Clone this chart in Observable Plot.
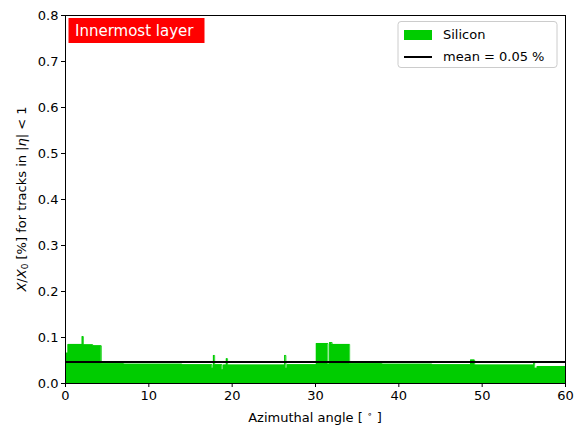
<!DOCTYPE html>
<html>
<head>
<meta charset="utf-8">
<script src="https://cdn.jsdelivr.net/npm/d3@7"></script>
<script src="https://cdn.jsdelivr.net/npm/@observablehq/plot@0.6"></script>
<style>
  html, body { margin: 0; padding: 0; background: #fff; }
  svg { font-family: "DejaVu Sans", sans-serif; }
</style>
</head>
<body>
<div id="chart"></div>
<script>
// Histogram bins: lower edge (degrees), material budget X/X0 [%]; last bin ends at 60
const binLo = [0, 0.3, 2.0, 2.15, 3.3, 4.3, 7, 10, 14, 17.6, 17.75, 17.9, 18.8, 18.95, 19.3, 19.45, 23, 26.3, 26.45, 26.6, 30.1, 31.5, 31.7, 32.0, 34.1, 38, 44, 48.6, 49.1, 53, 56.2, 56.3, 56.6];
const binEnd = 60;
const silicon = [0.066, 0.085, 0.102, 0.084, 0.082, 0.043, 0.042, 0.042, 0.041, 0.033, 0.061, 0.041, 0.030, 0.040, 0.054, 0.040, 0.040, 0.061, 0.033, 0.041, 0.087, 0.042, 0.089, 0.085, 0.043, 0.042, 0.041, 0.051, 0.040, 0.040, 0.048, 0.033, 0.037];
const meanValue = [0.047];
const meanLabel = "mean = 0.05 %";
const xTicks = [0, 10, 20, 30, 40, 50, 60];
const yTicks = [0, 0.1, 0.2, 0.3, 0.4, 0.5, 0.6, 0.7, 0.8];

const pts = binLo.map((x, i) => ({x, y: silicon[i]}));
pts.push({x: binEnd, y: silicon[silicon.length - 1]});

const W = 578, H = 433;
const mL = 65, mR = 13, mT = 15, mB = 50;
const green = "#00cc00";

const chart = Plot.plot({
  width: W, height: H,
  marginLeft: mL, marginRight: mR, marginTop: mT, marginBottom: mB,
  style: {fontFamily: "DejaVu Sans, sans-serif", fontSize: "13px", color: "#000", background: "#fff"},
  x: {domain: [0, 60], ticks: xTicks, tickSize: 4, tickPadding: 3, label: null, tickFormat: d3.format("d")},
  y: {domain: [0, 0.8], ticks: yTicks, tickSize: 4, tickPadding: 3, label: null, tickFormat: d3.format(".1f")},
  marks: [
    Plot.areaY(pts, {x: "x", y: "y", curve: "step-after", fill: green}),
    Plot.lineY(pts, {x: "x", y: "y", curve: "step-after", stroke: green, strokeWidth: 0.8}),
    Plot.ruleY(meanValue, {stroke: "#000", strokeWidth: 2}),
    Plot.frame({stroke: "#000", strokeWidth: 1})
  ]
});

document.getElementById("chart").appendChild(chart);
const svg = d3.select(chart);

// x axis label
const xl = svg.append("text")
  .attr("x", (mL + W - mR) / 2).attr("y", 422)
  .attr("text-anchor", "middle").attr("font-size", 13).attr("fill", "#000");
xl.append("tspan").text("Azimuthal angle [ ");
xl.append("tspan").attr("font-size", 9).attr("dy", -5).text("∘");
xl.append("tspan").attr("dy", 5).text(" ]");

// y axis label with italic symbols
const yl = svg.append("text")
  .attr("transform", `translate(22,${(mT + H - mB) / 2}) rotate(-90)`)
  .attr("text-anchor", "middle")
  .attr("dominant-baseline", "middle")
  .attr("font-size", 13)
  .attr("fill", "#000");
yl.append("tspan").attr("font-style", "italic").text("X");
yl.append("tspan").text("/");
yl.append("tspan").attr("font-style", "italic").text("X");
yl.append("tspan").attr("font-size", 9).attr("dy", 3).text("0");
yl.append("tspan").attr("dy", -3).text(" [%] for tracks in |");
yl.append("tspan").attr("font-style", "italic").text("η");
yl.append("tspan").text("| < 1");

// Red tag
svg.append("rect").attr("x", 68.5).attr("y", 18).attr("width", 136).attr("height", 25).attr("fill", "#ff0000");
svg.append("text").attr("x", 75).attr("y", 36).attr("text-anchor", "start").attr("fill", "#fff").attr("font-size", 15).text("Innermost layer");

// Legend
const lg = svg.append("g").attr("text-anchor", "start");
lg.append("rect").attr("x", 398).attr("y", 21.5).attr("width", 159).attr("height", 46).attr("rx", 3)
  .attr("fill", "#fff").attr("fill-opacity", 0.8).attr("stroke", "#ccc");
lg.append("rect").attr("x", 404).attr("y", 30).attr("width", 28).attr("height", 10).attr("fill", green);
lg.append("text").attr("x", 443).attr("y", 35).attr("dominant-baseline", "middle").attr("font-size", 13).attr("fill", "#000").text("Silicon");
lg.append("line").attr("x1", 404).attr("x2", 432).attr("y1", 57).attr("y2", 57).attr("stroke", "#000").attr("stroke-width", 2);
lg.append("text").attr("x", 443).attr("y", 57).attr("dominant-baseline", "middle").attr("font-size", 13).attr("fill", "#000").text(meanLabel);
</script>
</body>
</html>
